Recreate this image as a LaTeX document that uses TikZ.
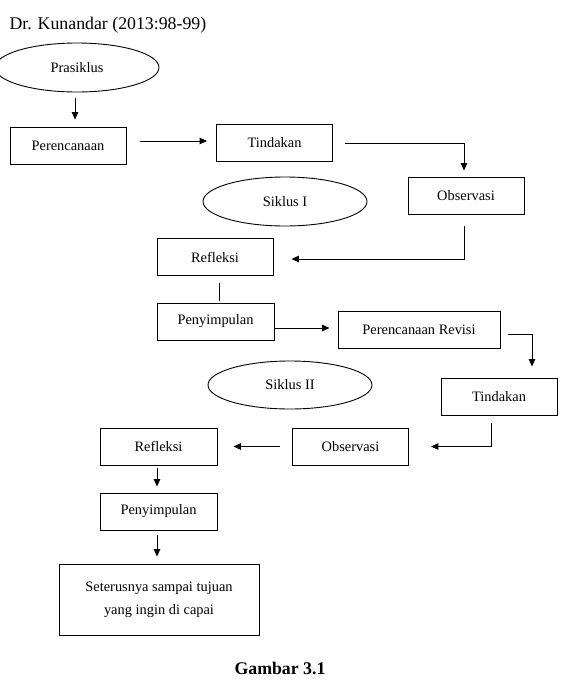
\documentclass[tikz,border=0pt]{standalone}
\usepackage{fontspec}
\setmainfont{Liberation Serif}
\usepackage{xcolor}
\usepackage{tikz}
\usetikzlibrary{calc,arrows.meta}
\usetikzlibrary{shapes.geometric,positioning}

\begin{document}
\begin{tikzpicture}[
        x=1pt, y=-1pt,
        kotak/.style={draw, line width=0.9pt, minimum width=116pt, minimum height=37pt, inner sep=0pt, align=center, font=\fontsize{14.4}{23}\selectfont},
        siklus/.style={draw, ellipse, line width=0.9pt, minimum width=164pt, minimum height=49pt, inner sep=0pt, font=\fontsize{14.4}{17}\selectfont},
        panah/.style={->, line width=0.9pt},
        >={Triangle[length=7.5pt,width=6.5pt]}
    ]
        \useasboundingbox (0,0) rectangle (561,686);

        \node[anchor=base west, font=\fontsize{17.8}{20}\selectfont] (sumber) at (6,29.5) {Dr. Kunandar (2013:98-99)};

        % siklus I
        \node[siklus] (prasiklus) at (77,67.5) {Prasiklus};
        \node[kotak] (perencanaan) at (68,145.5) {Perencanaan};
        \node[kotak] (tindakan) at (274.5,143) {Tindakan};
        \node[kotak] (observasi) at (466,195.5) {Observasi};
        \node[siklus] (siklusA) at (285,201.5) {Siklus I};
        \node[kotak] (refleksi) at (215,257) {Refleksi};
        \node[kotak, minimum width=117pt] (penyimpulan) at (215.5,321.5) {Penyimpulan};

        % siklus II
        \node[kotak, minimum width=162pt] (revisi) at (419,329.5) {Perencanaan Revisi};
        \node[siklus, minimum height=48pt] (siklusB) at (290,385) {Siklus II};
        \node[kotak] (tindakanB) at (499,396.5) {Tindakan};
        \node[kotak] (observasiB) at (350.5,446.5) {Observasi};
        \node[kotak, minimum width=117pt] (refleksiB) at (158.5,446.5) {Refleksi};
        \node[kotak, minimum width=117pt] (penyimpulanB) at (158.5,511.5) {Penyimpulan};
        \node[kotak, minimum width=200pt, minimum height=71pt] (seterusnya) at (159,599.5) {Seterusnya sampai tujuan\\yang ingin di capai};

        \node[anchor=base, font=\bfseries\fontsize{17.8}{20}\selectfont] (judul) at (280,674) {Gambar 3.1};

        \draw[panah] ([xshift=-2pt,yshift=-6pt]prasiklus.south) -- ([xshift=7pt,yshift=7pt]perencanaan.north);
        \draw[panah] ([xshift=14pt,yshift=4.5pt]perencanaan.east) -- ([xshift=-9pt,yshift=2pt]tindakan.west);
        \draw[panah] ([xshift=12pt]tindakan.east) -| ([xshift=-2pt,yshift=6pt]observasi.north);
        \draw[panah] ([xshift=-2pt,yshift=-12pt]observasi.south) |- ([xshift=18pt,yshift=-2pt]refleksi.east);
        \draw[line width=0.9pt] ([xshift=4pt,yshift=-7pt]refleksi.south) -- ([xshift=3.5pt,yshift=2pt]penyimpulan.north);
        \draw[panah] ([yshift=-6.5pt]penyimpulan.east) -- ([xshift=-8pt,yshift=1.5pt]revisi.west);
        \draw[panah] ([xshift=8pt,yshift=-4.5pt]revisi.east) -| ([xshift=33pt,yshift=11pt]tindakanB.north);
        \draw[panah] ([xshift=-8pt,yshift=-8pt]tindakanB.south) |- ([xshift=22pt]observasiB.east);
        \draw[panah] ([xshift=-12.5pt]observasiB.west) -- ([xshift=16pt]refleksiB.east);
        \draw[panah] ([xshift=-1.5pt,yshift=-3pt]refleksiB.south) -- ([xshift=-1.5pt,yshift=6pt]penyimpulanB.north);
        \draw[panah] ([xshift=-1.5pt,yshift=-5pt]penyimpulanB.south) -- ([xshift=-2pt,yshift=7pt]seterusnya.north);
    \end{tikzpicture}
\end{document}
